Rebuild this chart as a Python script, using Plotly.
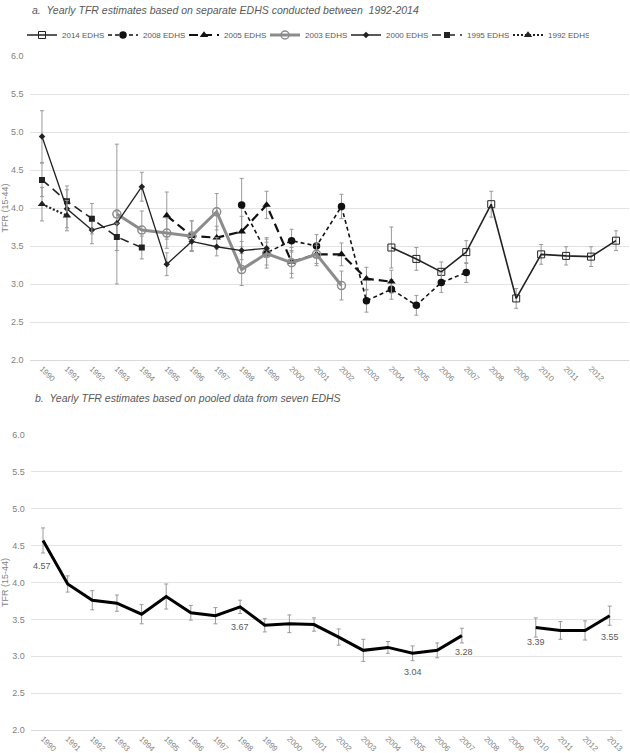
import plotly.graph_objects as go

YEARS = list(range(1990, 2014))

# Panel a: separate EDHS series
y2014_years = [2004, 2005, 2006, 2007, 2008, 2009, 2010, 2011, 2012, 2013]
y2014_vals = [3.48, 3.33, 3.16, 3.42, 4.05, 2.81, 3.39, 3.37, 3.36, 3.57]
y2014_err = [0.27, 0.15, 0.13, 0.15, 0.17, 0.13, 0.13, 0.12, 0.13, 0.13]

y2008_years = [1998, 1999, 2000, 2001, 2002, 2003, 2004, 2005, 2006, 2007]
y2008_vals = [4.04, 3.41, 3.57, 3.50, 4.02, 2.78, 2.93, 2.72, 3.02, 3.15]
y2008_err = [0.35, 0.20, 0.15, 0.15, 0.16, 0.15, 0.13, 0.13, 0.13, 0.13]

y2005_years = [1995, 1996, 1997, 1998, 1999, 2000, 2001, 2002, 2003, 2004]
y2005_vals = [3.90, 3.63, 3.61, 3.69, 4.04, 3.29, 3.39, 3.39, 3.07, 3.03]
y2005_err = [0.31, 0.20, 0.15, 0.20, 0.18, 0.15, 0.12, 0.15, 0.15, 0.15]

y2003_years = [1993, 1994, 1995, 1996, 1997, 1998, 1999, 2000, 2001, 2002]
y2003_vals = [3.92, 3.71, 3.67, 3.63, 3.95, 3.19, 3.40, 3.28, 3.39, 2.98]
y2003_err = [0.92, 0.25, 0.20, 0.20, 0.24, 0.21, 0.15, 0.20, 0.15, 0.19]

y2000_years = [1990, 1991, 1992, 1993, 1994, 1995, 1996, 1997, 1998, 1999]
y2000_vals = [4.94, 3.99, 3.71, 3.80, 4.28, 3.26, 3.56, 3.49, 3.44, 3.47]
y2000_err = [0.34, 0.25, 0.18, 0.15, 0.19, 0.15, 0.12, 0.12, 0.12, 0.12]

y1995_years = [1990, 1991, 1992, 1993, 1994]
y1995_vals = [4.37, 4.09, 3.86, 3.62, 3.48]
y1995_err = [0.22, 0.20, 0.20, 0.18, 0.15]

y1992_years = [1990, 1991]
y1992_vals = [4.05, 3.90]
y1992_err = [0.22, 0.20]

# Panel b: pooled
pooled_years = YEARS
pooled_vals = [4.57, 3.98, 3.76, 3.72, 3.57, 3.81, 3.59, 3.55, 3.67, 3.42, 3.44, 3.43,
               3.26, 3.08, 3.12, 3.04, 3.08, 3.28, None, None, 3.39, 3.35, 3.35, 3.55]
pooled_err = [0.17, 0.11, 0.13, 0.11, 0.13, 0.17, 0.10, 0.11, 0.09, 0.09, 0.12, 0.09,
              0.11, 0.15, 0.08, 0.10, 0.10, 0.10, None, None, 0.13, 0.12, 0.13, 0.13]
label_years = [1990, 1998, 2005, 2007, 2010, 2013]
label_vals = [4.57, 3.67, 3.04, 3.28, 3.39, 3.55]
label_dy = [-26, -20, -19, -16, -15, -21]
label_dx = [-1, 0, 0, 2, 0, 0]

series = [
    ("2014 EDHS", y2014_years, y2014_vals, y2014_err, dict(color="#222222", width=1.6, dash="solid"),
     dict(symbol="square-open", size=7, color="#222222", line=dict(width=1))),
    ("2008 EDHS", y2008_years, y2008_vals, y2008_err, dict(color="#111111", width=1.6, dash="4px,3px"),
     dict(symbol="circle", size=7.5, color="#111111")),
    ("2005 EDHS", y2005_years, y2005_vals, y2005_err, dict(color="#111111", width=2.2, dash="9px,5px"),
     dict(symbol="triangle-up", size=7.5, color="#111111")),
    ("2003 EDHS", y2003_years, y2003_vals, y2003_err, dict(color="#8c8c8c", width=3, dash="solid"),
     dict(symbol="circle-open", size=8, color="#8c8c8c", line=dict(width=1.5))),
    ("2000 EDHS", y2000_years, y2000_vals, y2000_err, dict(color="#222222", width=1.3, dash="solid"),
     dict(symbol="diamond", size=5, color="#222222")),
    ("1995 EDHS", y1995_years, y1995_vals, y1995_err, dict(color="#222222", width=1.6, dash="9px,5px"),
     dict(symbol="square", size=6, color="#222222")),
    ("1992 EDHS", y1992_years, y1992_vals, y1992_err, dict(color="#222222", width=2.2, dash="2px,2px"),
     dict(symbol="triangle-up", size=7.5, color="#222222")),
]

fig = go.Figure()
err_style = dict(type="data", thickness=1, width=2, color="#9a9a9a")

for name, xs, ys, es, line, marker in series:
    fig.add_trace(go.Scatter(
        x=xs, y=ys, name=name, mode="lines+markers", line=line, marker=marker,
        error_y=dict(array=es, **err_style), xaxis="x", yaxis="y"))

# empty spacer entry so the last legend label is not clipped
fig.add_trace(go.Scatter(x=[], y=[], name=" ", mode="lines", line=dict(width=0, color="rgba(0,0,0,0)"),
                         hoverinfo="skip", xaxis="x", yaxis="y"))

fig.add_trace(go.Scatter(
    x=pooled_years, y=pooled_vals, mode="lines", line=dict(color="#000000", width=3),
    error_y=dict(array=pooled_err, **err_style), connectgaps=False,
    showlegend=False, xaxis="x2", yaxis="y2"))

H = 753.0
W = 630.0
def py(p):
    return 1 - p / H

annotations = [
    dict(text="<i>a.  Yearly TFR estimates based on separate EDHS conducted between  1992-2014</i>",
         xref="paper", yref="paper", x=30 / W, y=py(10), xanchor="left", yanchor="middle",
         showarrow=False, font=dict(size=10.5, color="#595959", family="Liberation Sans")),
    dict(text="<i>b.  Yearly TFR estimates based on pooled data from seven EDHS</i>",
         xref="paper", yref="paper", x=33 / W, y=py(398), xanchor="left", yanchor="middle",
         showarrow=False, font=dict(size=10.5, color="#595959", family="Liberation Sans")),
]
for yr, v, dy, dx in zip(label_years, label_vals, label_dy, label_dx):
    annotations.append(dict(text=f"{v:.2f}", x=yr, y=v, xref="x2", yref="y2", showarrow=False,
                            xanchor="center", yanchor="middle", yshift=dy, xshift=dx,
                            font=dict(size=9, color="#595959", family="Liberation Sans")))

tickfont = dict(size=8, color="#7f7f7f", family="Liberation Sans")
common_x = dict(range=[1989.5, 2013.5], tickmode="array", tickvals=YEARS,
                ticktext=[str(y) for y in YEARS], tickangle=45, tickfont=tickfont,
                showgrid=False, showline=True, linecolor="#d9d9d9", ticks="", ticklen=0,
                zeroline=False, automargin=False)
common_y = dict(range=[2.0, 6.0], dtick=0.5, tickformat=".1f",
                tickfont=dict(size=9, color="#7f7f7f", family="Liberation Sans"),
                showgrid=True, gridcolor="#e3e3e3", gridwidth=1, zeroline=False, showline=False,
                ticks="", ticklen=0, automargin=False, ticklabelstandoff=5,
                title=dict(text="TFR (15-44)", font=dict(size=9, color="#7f7f7f", family="Liberation Sans")))

fig.update_layout(
    width=630, height=753, margin=dict(l=0, r=0, t=0, b=0, autoexpand=False),
    paper_bgcolor="white", plot_bgcolor="white",
    xaxis=dict(domain=[29.5 / W, 628.5 / W], anchor="y", **common_x),
    yaxis=dict(domain=[py(360), py(56)], anchor="x", **common_y),
    xaxis2=dict(domain=[30.7 / W, 622 / W], anchor="y2", **common_x),
    yaxis2=dict(domain=[py(730), py(435)], anchor="x2", **common_y),
    legend=dict(orientation="h", x=22 / W, y=py(35), xanchor="left", yanchor="middle",
                font=dict(size=8, color="#595959", family="Liberation Sans"),
                entrywidth=36, entrywidthmode="pixels", itemwidth=30, tracegroupgap=0,
                bgcolor="rgba(0,0,0,0)"),
    showlegend=True,
    annotations=annotations,
)

fig.write_html("out.html", config={"displayModeBar": False},
               post_script="document.body.style.margin='0';document.body.style.overflow='hidden';")
